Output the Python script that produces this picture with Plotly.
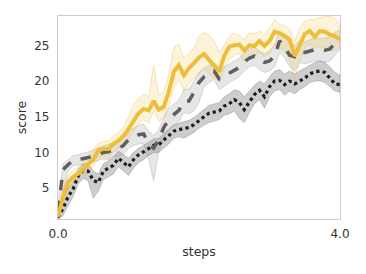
import numpy as np
import plotly.graph_objects as go

steps = np.round(np.linspace(0.0, 4.0, 57), 4).tolist()

yellow_mean = [1.0, 3.8, 5.8, 6.6, 7.0, 7.6, 8.4, 9.0, 10.3, 10.5, 10.5, 11.2, 11.7, 12.3, 13.3, 14.3, 15.5, 16.1, 15.9, 17.2,
               16.0, 16.4, 18.5, 21.3, 22.2, 20.8, 21.8, 22.5, 23.3, 23.8, 22.9, 22.0, 21.3, 23.5, 24.8, 25.0, 25.1, 24.3, 25.0, 24.9,
               25.6, 24.9, 25.6, 26.9, 26.7, 26.3, 25.8, 23.5, 25.2, 26.6, 27.0, 26.2, 27.0, 26.9, 26.5, 26.3, 25.8]
yellow_upper = [1.8, 4.8, 6.8, 7.5, 8.0, 8.6, 9.6, 10.4, 11.3, 11.5, 11.6, 12.4, 12.8, 13.6, 15.0, 16.8, 17.6, 18.2, 17.8, 22.2,
                18.0, 18.5, 21.0, 24.8, 25.2, 23.2, 24.0, 24.6, 26.3, 26.8, 26.5, 25.6, 24.0, 25.0, 26.2, 26.7, 26.4, 25.8, 26.8, 26.6,
                27.0, 26.5, 27.4, 28.6, 27.9, 27.8, 27.3, 25.5, 27.4, 28.4, 28.6, 28.6, 28.9, 29.0, 29.1, 28.8, 27.8]
yellow_lower = [0.7, 2.6, 4.8, 5.8, 6.2, 6.8, 7.6, 8.0, 9.2, 9.6, 9.2, 10.1, 10.6, 11.0, 12.0, 13.0, 14.0, 14.6, 14.2, 15.8,
                14.4, 14.8, 16.5, 19.0, 20.2, 18.6, 19.6, 20.4, 21.0, 21.8, 21.0, 20.4, 19.8, 21.8, 23.0, 23.6, 23.8, 22.8, 23.4, 23.5,
                24.0, 23.4, 24.0, 25.2, 24.6, 24.2, 23.0, 20.3, 22.8, 24.6, 25.2, 24.6, 24.8, 24.6, 24.2, 24.4, 24.6]

dashed_mean = [1.8, 7.6, 8.3, 8.9, 9.0, 9.1, 9.3, 9.5, 9.8, 10.0, 10.1, 10.3, 10.5, 11.0, 11.8, 12.2, 12.5, 12.6, 11.3, 10.6,
               11.8, 13.5, 14.6, 15.3, 15.9, 17.2, 17.2, 18.4, 19.8, 20.6, 21.0, 21.4, 20.3, 20.6, 21.1, 21.5, 21.9, 22.7, 23.2, 23.5,
               22.9, 22.6, 22.8, 23.5, 25.6, 24.8, 23.6, 23.4, 24.1, 24.0, 24.2, 24.4, 24.4, 24.3, 24.5, 25.3, 25.8]
dashed_upper = [2.8, 8.4, 9.0, 9.6, 9.7, 9.9, 10.2, 10.3, 10.7, 10.9, 11.2, 11.4, 11.8, 12.3, 13.0, 13.4, 13.8, 14.0, 13.0, 12.4,
                13.2, 15.0, 16.2, 16.8, 17.4, 18.8, 18.9, 20.0, 21.2, 21.8, 22.2, 22.6, 21.8, 22.0, 22.4, 22.8, 23.2, 24.0, 24.4, 24.8,
                24.2, 23.8, 24.2, 25.0, 27.0, 26.4, 25.2, 25.0, 25.6, 25.5, 25.8, 26.0, 26.0, 26.0, 26.2, 26.8, 27.2]
dashed_lower = [0.8, 4.5, 7.4, 8.1, 8.3, 8.3, 8.4, 8.7, 8.9, 9.1, 9.0, 9.4, 9.4, 9.8, 10.6, 11.0, 11.2, 11.2, 9.0, 6.0,
                10.2, 12.0, 13.2, 13.8, 14.3, 15.6, 15.4, 15.8, 17.0, 19.2, 19.8, 20.2, 18.8, 19.2, 19.8, 20.2, 20.6, 21.4, 22.0, 22.2,
                21.6, 21.2, 21.4, 22.0, 24.0, 23.2, 22.0, 21.4, 22.6, 22.4, 22.6, 22.8, 22.8, 22.6, 22.8, 23.6, 24.4]

dotted_mean = [0.9, 2.2, 3.8, 4.9, 6.7, 7.5, 7.4, 6.1, 5.8, 7.4, 7.8, 8.2, 9.2, 8.6, 8.0, 9.0, 9.7, 10.1, 10.6, 11.0,
               11.1, 11.7, 12.3, 13.0, 13.2, 13.3, 13.5, 13.9, 14.5, 15.0, 15.5, 15.6, 15.8, 16.5, 16.8, 17.4, 17.0, 16.0, 17.1, 18.1,
               18.7, 17.8, 19.2, 20.0, 20.1, 19.5, 20.0, 19.6, 20.0, 20.4, 21.0, 21.3, 21.4, 21.2, 20.4, 19.6, 19.5]
dotted_upper = [1.8, 3.4, 5.0, 6.0, 7.7, 8.4, 8.4, 7.4, 7.0, 8.4, 8.8, 9.3, 10.2, 9.7, 9.2, 10.0, 10.6, 11.0, 11.5, 11.9,
                12.0, 12.6, 13.2, 13.9, 14.1, 14.3, 14.5, 14.9, 15.5, 16.0, 16.6, 16.8, 17.0, 17.8, 18.2, 18.8, 18.6, 17.8, 18.6, 19.4,
                20.0, 19.6, 20.6, 21.4, 21.6, 21.0, 21.4, 21.0, 21.4, 21.8, 22.2, 22.6, 22.8, 22.6, 22.0, 21.2, 20.8]
dotted_lower = [0.7, 1.2, 2.6, 3.8, 5.6, 6.4, 6.0, 3.6, 4.6, 6.2, 6.6, 7.0, 8.0, 7.4, 6.8, 7.8, 8.6, 9.0, 9.6, 10.0,
                10.0, 10.6, 11.2, 12.0, 12.2, 12.0, 12.4, 12.8, 13.4, 13.8, 14.2, 14.4, 14.6, 15.2, 15.4, 15.8, 14.8, 14.2, 15.6, 16.8,
                17.4, 16.2, 17.8, 18.6, 18.8, 18.0, 18.6, 18.2, 18.8, 19.2, 19.8, 20.0, 20.0, 19.8, 19.2, 18.6, 18.4]

fig = go.Figure()

def band(upper, lower, fill, edge):
    fig.add_trace(go.Scatter(
        x=steps + steps[::-1], y=upper + lower[::-1],
        fill="toself", fillcolor=fill, mode="lines",
        line=dict(color=edge, width=0.8), hoverinfo="skip", showlegend=False))

band(dotted_upper, dotted_lower, "rgba(90,90,90,0.30)", "rgba(90,90,90,0.35)")
band(dashed_upper, dashed_lower, "rgba(140,140,140,0.22)", "rgba(140,140,140,0.35)")
band(yellow_upper, yellow_lower, "rgba(240,195,60,0.20)", "rgba(225,190,90,0.45)")

fig.add_trace(go.Scatter(x=steps, y=dotted_mean, mode="lines",
                         line=dict(color="#1e1e1e", width=3.2, dash="dot"), showlegend=False))
fig.add_trace(go.Scatter(x=steps, y=dashed_mean, mode="lines",
                         line=dict(color="#5f5f5f", width=3.5, dash="dash"), showlegend=False))
fig.add_trace(go.Scatter(x=steps, y=yellow_mean, mode="lines",
                         line=dict(color="#ECBE3A", width=4), showlegend=False))

font = dict(family="DejaVu Sans", size=12, color="#333333")
tfont = dict(family="DejaVu Sans", size=12.5, color="#333333")
fig.update_layout(
    width=366, height=274,
    margin=dict(l=58, r=26, t=16, b=55),
    paper_bgcolor="white", plot_bgcolor="white",
    font=font,
    xaxis=dict(range=[0, 4], tickvals=[0, 4], ticktext=["0.0", "4.0"], automargin=False,
               showgrid=False, zeroline=False, showline=True, mirror=True,
               linecolor="#cccccc", linewidth=1.2,
               ticks="outside", ticklen=3, tickcolor="rgba(0,0,0,0)",
               title=dict(text="steps", standoff=7, font=tfont), tickfont=font),
    yaxis=dict(range=[0.7, 29.1], tickvals=[5, 10, 15, 20, 25], automargin=False,
               showgrid=False, zeroline=False, showline=True, mirror=True,
               linecolor="#cccccc", linewidth=1.2,
               ticks="outside", ticklen=5, tickcolor="rgba(0,0,0,0)",
               title=dict(text="score", standoff=4, font=tfont), tickfont=font),
)

fig.write_html("out.html", config={"displayModeBar": False},
               post_script="document.body.style.margin='0';document.body.style.overflow='hidden';")
